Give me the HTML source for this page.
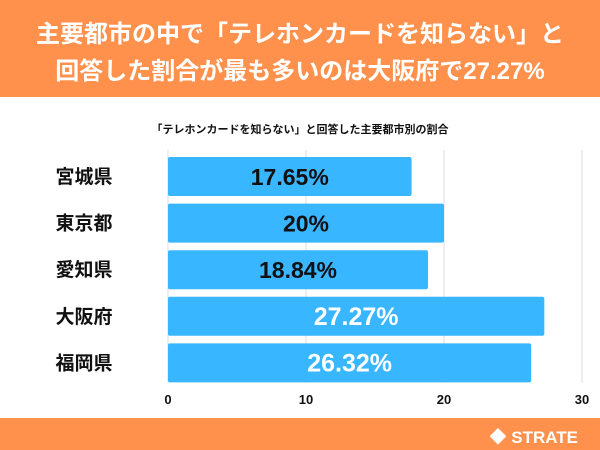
<!DOCTYPE html>
<html><head><meta charset="utf-8"><style>
body{margin:0;width:600px;height:450px;overflow:hidden;background:#fff;font-family:"Liberation Sans","Noto Sans CJK JP",sans-serif;position:relative}
#hdr{position:absolute;left:0;top:0;width:600px;height:97px;background:#FF914D;color:#fff;font-weight:bold;font-size:24px;text-align:center;line-height:37px;padding-top:16px;box-sizing:border-box}
#ftr{position:absolute;left:0;top:418px;width:600px;height:32px;background:#FF914D}
#logo{position:absolute;right:22px;top:5px;color:#fff;font-weight:bold;font-size:17px}
#ttl{position:absolute;top:121px;width:600px;text-align:center;font-size:11px;font-weight:bold;color:#111}
</style></head><body>
<div id="hdr">主要都市の中で「テレホンカードを知らない」と<br>回答した割合が最も多いのは大阪府で27.27%</div>
<div id="ttl">「テレホンカードを知らない」と回答した主要都市別の割合</div>
<svg id="chart" width="600" height="450" style="position:absolute;left:0;top:0"></svg>
<div id="ftr"><div id="logo">◆ STRATE</div></div>
<script>
const categories=["宮城県","東京都","愛知県","大阪府","福岡県"];
const values=[17.65,20,18.84,27.27,26.32];
const labels=["17.65%","20%","18.84%","27.27%","26.32%"];
const ticks=[0,10,20,30];
const NS="http://www.w3.org/2000/svg";
const svg=document.getElementById('chart');
const x=v=>168+v*13.8;
const bandTop=150,bandH=46.6;
const y=i=>bandTop+i*bandH+7;
function mk(t,a){const e=document.createElementNS(NS,t);for(const k in a)e.setAttribute(k,a[k]);svg.appendChild(e);return e;}
ticks.forEach(t=>{
 const l=mk('line',{x1:x(t),x2:x(t),y1:150,y2:383,stroke:'#ddd','stroke-width':1});
 
 
 const tx=mk('text',{x:x(t),y:404,'text-anchor':'middle','font-size':13,'font-weight':'bold',fill:'#111'});
 tx.textContent=t;
 
 
});
categories.forEach((c,i)=>{
 const r=mk('rect',{x:x(0),y:y(i),width:x(values[i])-x(0),height:39,rx:2,fill:'#38B6FF'});
 
 
 const lab=mk('text',{x:84,y:y(i)+26,'text-anchor':'middle','font-size':19,'font-weight':'bold',fill:'#111'});
 lab.textContent=c;
 
 
 const big=values[i]>25;
 const v=mk('text',{x:(x(0)+x(values[i]))/2,y:y(i)+28,'text-anchor':'middle','font-size':big?25:23,'font-weight':'bold',fill:big?'#fff':'#111'});
 v.textContent=labels[i];
 
 
});
</script>
</body></html>
